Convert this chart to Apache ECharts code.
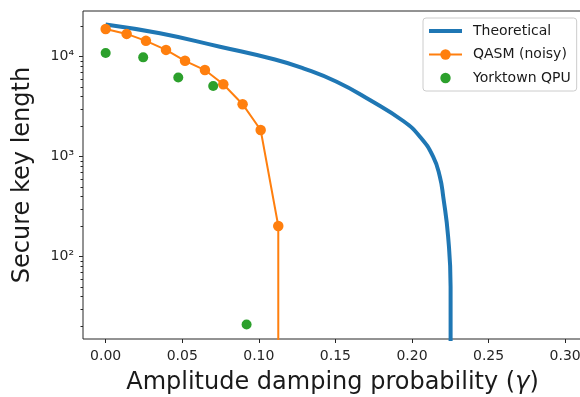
<!DOCTYPE html>
<html lang="en">
<head>
  <meta charset="UTF-8">
  <title>Secure key length</title>
  <style>
    * { margin: 0; padding: 0; }
    body { background: #fff; }
    #main { width: 580px; height: 397px; }
  </style>
</head>
<body>
  <div id="main"></div>
  <script src="https://cdn.jsdelivr.net/npm/echarts@6/dist/echarts.min.js"></script>
  <script>
  // values
  var gammaTheory = [0, 0.0354, 0.0746, 0.1105, 0.129, 0.1508, 0.1725, 0.1943, 0.2052, 0.2138, 0.2182, 0.2204, 0.2236, 0.2252, 0.2262];
  var keyTheory = [21000, 17140, 12590, 9380, 7660, 5620, 3690, 2275, 1585, 1000, 631, 398, 158, 50, 0];

  var gammaQasm = [0, 0.0137, 0.0263, 0.0394, 0.0518, 0.0648, 0.0768, 0.0894, 0.1012, 0.1127, 0.1128];
  var keyQasm = [18900, 16900, 14400, 11700, 9100, 7350, 5300, 3350, 1850, 203, 0];

  var gammaQpu = [0, 0.0245, 0.0474, 0.0702, 0.092];
  var keyQpu = [10900, 9850, 6200, 5100, 21];

  var xTicks = [0, 0.05, 0.1, 0.15, 0.2, 0.25, 0.3];
  var yDecades = [2, 3, 4];

  var font = 'DejaVu Sans';
  var sup = { 2: '\u00b2', 3: '\u00b3', 4: '\u2074' };

  // log10 y, non-positive values clipped far below the axis (like matplotlib)
  function toLog(v) {
    return v > 0 ? Math.log10(v) : -50;
  }
  function pairs(xs, ys) {
    return xs.map(function (x, i) { return [x, toLog(ys[i])]; });
  }

  var minorTicks = [];
  for (var d = 1; d <= 4; d++) {
    for (var k = 2; k <= 9; k++) {
      var lv = Math.log10(k * Math.pow(10, d));
      if (lv > 1.177 && lv < 4.457) minorTicks.push(lv);
    }
  }

  var chart = echarts.init(document.getElementById('main'));
  var option = {
    animation: false,
    textStyle: { fontFamily: font },
    grid: {
      left: 83, top: 11, right: -2, bottom: 58,
      outerBoundsMode: 'none',
      containLabel: false,
      show: true, borderColor: '#262626', borderWidth: 1
    },
    legend: {
      orient: 'vertical',
      left: 423, top: 18,
      padding: [6, 6, 6, 4],
      itemWidth: 33, itemHeight: 13, itemGap: 9.5,
      backgroundColor: 'rgba(255,255,255,0.8)',
      borderColor: '#cccccc', borderWidth: 1, borderRadius: 3,
      textStyle: { fontFamily: font, fontSize: 14, color: '#1a1a1a', padding: [0, 0, 0, 6] },
      data: [
        { name: 'Theoretical', itemStyle: { opacity: 0 }, lineStyle: { width: 4 } },
        { name: 'QASM (noisy)', lineStyle: { width: 2 } },
        'Yorktown QPU'
      ]
    },
    xAxis: {
      type: 'value',
      min: -0.0148, max: 0.311,
      splitLine: { show: false },
      axisLine: { show: false, onZero: false },
      axisTick: { length: 4, customValues: xTicks, lineStyle: { color: '#262626' } },
      axisLabel: {
        customValues: xTicks, margin: 10,
        fontSize: 14, color: '#262626',
        formatter: function (v) { return v.toFixed(2); }
      },
      name: 'Amplitude damping probability ({i|\u03b3})',
      nameLocation: 'middle', nameGap: 32,
      nameTextStyle: {
        fontSize: 24, color: '#1a1a1a', fontFamily: font,
        rich: { i: { fontSize: 24, fontStyle: 'italic', fontFamily: font, color: '#1a1a1a' } }
      }
    },
    yAxis: [{
      type: 'value',
      position: 'left',
      min: 1.177, max: 4.457,
      splitLine: { show: false },
      axisLine: { show: false, onZero: false },
      axisTick: { length: 4, customValues: yDecades, lineStyle: { color: '#262626' } },
      axisLabel: {
        customValues: yDecades, margin: 9,
        fontSize: 14, color: '#262626',
        formatter: function (v) { return '10' + sup[Math.round(v)]; }
      },
      name: 'Secure key length',
      nameLocation: 'middle', nameGap: 48,
      nameTextStyle: { fontSize: 24, color: '#1a1a1a', fontFamily: font }
    }, {
      type: 'value',
      position: 'left',
      offset: 0,
      min: 1.177, max: 4.457,
      splitLine: { show: false },
      axisLine: { show: false, onZero: false },
      axisTick: { length: 2.5, customValues: minorTicks, lineStyle: { color: '#262626' } },
      axisLabel: { show: false }
    }],
    series: [{
      name: 'Theoretical',
      type: 'line',
      data: pairs(gammaTheory, keyTheory),
      symbol: 'none',
      smooth: 0.5,
      clip: true,
      lineStyle: { color: '#1f77b4', width: 4 },
      itemStyle: { color: '#1f77b4' },
      z: 2
    }, {
      name: 'QASM (noisy)',
      type: 'line',
      data: pairs(gammaQasm, keyQasm),
      symbol: 'circle', symbolSize: 10.5,
      clip: true,
      lineStyle: { color: '#ff7f0e', width: 2 },
      itemStyle: { color: '#ff7f0e' },
      z: 3
    }, {
      name: 'Yorktown QPU',
      type: 'line',
      data: pairs(gammaQpu, keyQpu),
      symbol: 'circle', symbolSize: 10,
      clip: true,
      lineStyle: { opacity: 0 },
      itemStyle: { color: '#2ca02c' },
      z: 4
    }]
  };
  chart.setOption(option);
  </script>
</body>
</html>
